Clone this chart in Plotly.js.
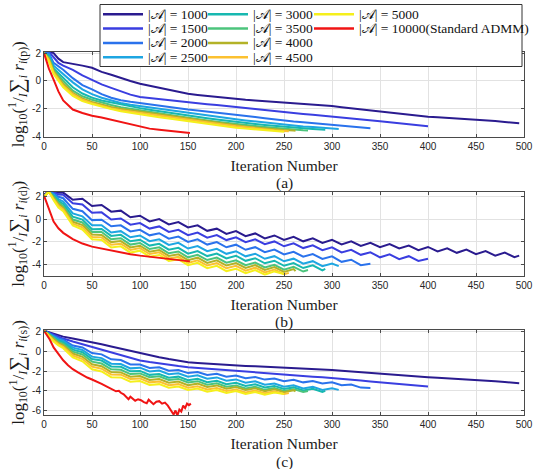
<!DOCTYPE html>
<html>
<head>
<meta charset="utf-8">
<script src="https://cdn.plot.ly/plotly-3.0.1.min.js"></script>
<style>
html,body{margin:0;padding:0;background:#fff;}
#chart{width:550px;height:469px;}
</style>
</head>
<body>
<div id="chart"></div>
<script>
// Iterations at which the residual curves are sampled
const iterGrid = [0,5,10,15,20,30,40,50,60,70,80,90,100,110,120,130,140,150,160,170,180,190,200,
  210,220,230,240,250,260,270,280,290,300,310,320,330,340,350,360,370,380,390,400,
  410,420,430,440,450,460,470,480,490];

const setSizes = [1000,1500,2000,2500,3000,3500,4000,4500,5000,10000];
const seriesLabels = ['|𝒜| = 1000','|𝒜| = 1500','|𝒜| = 2000','|𝒜| = 2500','|𝒜| = 3000',
  '|𝒜| = 3500','|𝒜| = 4000','|𝒜| = 4500','|𝒜| = 5000','|𝒜| = 10000(Standard ADMM)'];
// iteration at which each run stopped
const lastIter = [495,400,340,307,293,275,262,255,250,152];
const lineColors = ['#2a1b8f','#3a3ee0','#2a72ec','#1ea6e2','#17b8b0','#4cc47c','#b3b227','#fcc130','#f5ef1c','#f01414'];

// (a) primal residual, log10
const primalRes = [
  [2.05,2.1,2.0,1.6,1.35,1.25,1.1,0.95,0.65,0.45,0.2,0.0,-0.2,-0.35,-0.5,-0.65,-0.8,-0.92,-1.0,-1.08,-1.15,-1.22,-1.3,-1.35,-1.4,-1.45,-1.5,-1.55,-1.58,-1.62,-1.67,-1.73,-1.8,-1.88,-1.96,-2.04,-2.12,-2.2,-2.28,-2.36,-2.44,-2.51,-2.56,-2.6,-2.64,-2.68,-2.72,-2.76,-2.82,-2.88,-2.94,-3.0,-3.03],
  [2.0,2.1,1.7,1.3,1.1,0.8,0.4,0.05,-0.25,-0.5,-0.75,-0.98,-1.15,-1.23,-1.31,-1.39,-1.47,-1.55,-1.61,-1.67,-1.73,-1.79,-1.85,-1.93,-2.01,-2.09,-2.17,-2.25,-2.31,-2.37,-2.43,-2.49,-2.55,-2.62,-2.69,-2.76,-2.83,-2.9,-2.97,-3.04,-3.11,-3.18,-3.25],
  [2.0,2.0,1.3,1.05,0.8,0.2,-0.3,-0.6,-0.95,-1.2,-1.38,-1.5,-1.6,-1.7,-1.8,-1.89,-1.97,-2.05,-2.12,-2.19,-2.26,-2.33,-2.4,-2.49,-2.58,-2.67,-2.76,-2.85,-2.91,-2.97,-3.03,-3.09,-3.15,-3.21,-3.27,-3.33,-3.4],
  [2.0,1.9,1.1,0.8,0.5,-0.1,-0.6,-0.95,-1.2,-1.4,-1.58,-1.7,-1.8,-1.9,-2.0,-2.1,-2.2,-2.3,-2.39,-2.48,-2.57,-2.66,-2.75,-2.83,-2.91,-2.99,-3.07,-3.15,-3.2,-3.26,-3.31,-3.36,-3.41,-3.45],
  [2.0,1.8,0.9,0.55,0.2,-0.45,-0.9,-1.2,-1.4,-1.55,-1.7,-1.83,-1.95,-2.06,-2.17,-2.28,-2.39,-2.5,-2.59,-2.68,-2.77,-2.86,-2.95,-3.02,-3.09,-3.16,-3.23,-3.3,-3.35,-3.4,-3.45,-3.49,-3.5],
  [2.0,1.7,0.8,0.4,0.0,-0.7,-1.1,-1.35,-1.55,-1.72,-1.88,-2.0,-2.1,-2.21,-2.32,-2.43,-2.54,-2.65,-2.74,-2.83,-2.92,-3.01,-3.1,-3.17,-3.24,-3.31,-3.38,-3.45,-3.5,-3.54,-3.56],
  [2.0,1.6,0.7,0.25,-0.2,-0.85,-1.25,-1.5,-1.7,-1.87,-2.0,-2.1,-2.2,-2.3,-2.4,-2.5,-2.6,-2.7,-2.8,-2.9,-3.0,-3.1,-3.2,-3.27,-3.34,-3.41,-3.47,-3.52,-3.56,-3.57],
  [2.0,1.5,0.6,0.1,-0.35,-0.95,-1.35,-1.6,-1.8,-1.97,-2.1,-2.2,-2.3,-2.4,-2.5,-2.6,-2.7,-2.8,-2.89,-2.98,-3.07,-3.16,-3.25,-3.33,-3.41,-3.48,-3.54,-3.59,-3.61],
  [2.0,1.4,0.5,0.0,-0.45,-1.07,-1.45,-1.66,-1.85,-2.02,-2.17,-2.29,-2.4,-2.5,-2.6,-2.7,-2.8,-2.9,-2.99,-3.08,-3.17,-3.26,-3.35,-3.42,-3.49,-3.55,-3.6,-3.65],
  [2.0,0.9,0.1,-0.75,-1.4,-2.05,-2.3,-2.5,-2.62,-2.78,-2.95,-3.12,-3.3,-3.42,-3.5,-3.58,-3.65,-3.72,-3.73]
];

// (b) dual residual, log10
const dualRes = [
  [2.2,2.45,2.45,2.35,2.37,1.73,1.82,1.18,1.27,0.68,0.77,0.18,0.32,-0.19,0.02,-0.45,-0.25,-0.72,-0.53,-1.02,-0.83,-1.29,-1.05,-1.49,-1.25,-1.69,-1.43,-1.83,-1.55,-1.95,-1.68,-2.09,-1.81,-2.22,-1.95,-2.36,-2.08,-2.47,-2.19,-2.59,-2.33,-2.73,-2.45,-2.85,-2.57,-2.97,-2.69,-3.09,-2.81,-3.22,-2.95,-3.35,-3.22],
  [2.1,2.45,2.4,2.2,2.17,1.43,1.32,0.58,0.62,-0.02,0.07,-0.47,-0.33,-0.82,-0.63,-1.12,-0.93,-1.41,-1.18,-1.63,-1.4,-1.84,-1.6,-2.03,-1.78,-2.21,-1.96,-2.39,-2.13,-2.55,-2.3,-2.73,-2.48,-2.93,-2.7,-3.15,-2.92,-3.37,-3.11,-3.53,-3.27,-3.69,-3.5],
  [2.05,2.45,2.3,2.0,1.87,0.93,0.72,-0.07,-0.03,-0.62,-0.53,-1.07,-0.93,-1.42,-1.23,-1.72,-1.53,-2.0,-1.78,-2.24,-2.02,-2.48,-2.25,-2.7,-2.47,-2.92,-2.68,-3.12,-2.88,-3.32,-3.08,-3.52,-3.28,-3.77,-3.58,-4.07,-3.95],
  [2.0,2.45,2.2,1.8,1.57,0.53,0.27,-0.52,-0.53,-1.17,-1.05,-1.59,-1.43,-1.94,-1.77,-2.27,-2.09,-2.59,-2.37,-2.83,-2.61,-3.06,-2.83,-3.28,-3.05,-3.5,-3.27,-3.72,-3.49,-3.94,-3.71,-4.16,-3.93,-4.15],
  [2.0,2.45,2.1,1.65,1.37,0.23,-0.03,-0.87,-0.85,-1.47,-1.38,-1.95,-1.81,-2.33,-2.17,-2.69,-2.53,-3.04,-2.81,-3.26,-3.03,-3.47,-3.23,-3.68,-3.45,-3.9,-3.67,-4.12,-3.88,-4.32,-4.08,-4.52,-4.4],
  [2.0,2.45,2.0,1.5,1.17,-0.02,-0.28,-1.12,-1.13,-1.77,-1.68,-2.24,-2.1,-2.63,-2.48,-3.01,-2.85,-3.37,-3.15,-3.61,-3.39,-3.85,-3.63,-4.07,-3.83,-4.27,-4.03,-4.47,-4.21,-4.63,-4.5],
  [2.0,2.45,1.9,1.35,1.02,-0.22,-0.51,-1.35,-1.38,-2.02,-1.93,-2.49,-2.34,-2.87,-2.72,-3.25,-3.1,-3.62,-3.4,-3.86,-3.64,-4.1,-3.88,-4.31,-4.06,-4.49,-4.24,-4.67,-4.41,-4.6],
  [2.0,2.45,1.8,1.2,0.87,-0.39,-0.71,-1.56,-1.6,-2.25,-2.16,-2.71,-2.55,-3.08,-2.93,-3.47,-3.33,-3.86,-3.64,-4.1,-3.88,-4.34,-4.13,-4.55,-4.29,-4.71,-4.45,-4.87,-4.75],
  [2.0,2.45,1.7,1.05,0.72,-0.55,-0.9,-1.77,-1.83,-2.49,-2.4,-2.95,-2.78,-3.31,-3.16,-3.69,-3.54,-4.07,-3.86,-4.33,-4.12,-4.59,-4.38,-4.78,-4.5,-4.9,-4.62,-4.85],
  [2.1,0.9,-0.2,-0.8,-1.2,-1.75,-2.15,-2.42,-2.6,-2.78,-2.95,-3.1,-3.22,-3.33,-3.42,-3.52,-3.62,-3.72,-3.73]
];

// (c) third residual, log10
const slackRes = [
  [2.1,1.95,1.8,1.65,1.5,1.3,1.12,0.95,0.72,0.5,0.28,0.03,-0.23,-0.42,-0.6,-0.78,-0.95,-1.09,-1.17,-1.24,-1.31,-1.37,-1.43,-1.47,-1.51,-1.55,-1.59,-1.64,-1.69,-1.74,-1.79,-1.84,-1.89,-1.97,-2.05,-2.13,-2.21,-2.28,-2.35,-2.42,-2.49,-2.56,-2.62,-2.67,-2.72,-2.78,-2.83,-2.89,-2.96,-3.03,-3.1,-3.18,-3.22],
  [2.1,1.9,1.7,1.5,1.3,1.0,0.72,0.44,0.15,-0.12,-0.4,-0.67,-0.92,-1.08,-1.23,-1.37,-1.49,-1.6,-1.68,-1.76,-1.84,-1.92,-2.0,-2.07,-2.14,-2.21,-2.28,-2.36,-2.43,-2.5,-2.56,-2.62,-2.69,-2.78,-2.87,-2.96,-3.05,-3.13,-3.22,-3.31,-3.4,-3.49,-3.57],
  [2.1,1.85,1.6,1.35,1.2,0.6,0.4,-0.17,-0.3,-0.8,-0.88,-1.32,-1.33,-1.68,-1.62,-1.96,-1.88,-2.2,-2.09,-2.38,-2.27,-2.56,-2.45,-2.72,-2.59,-2.86,-2.74,-3.02,-2.88,-3.14,-3.0,-3.26,-3.13,-3.44,-3.35,-3.67,-3.7],
  [2.1,1.8,1.5,1.2,1.07,0.38,0.15,-0.53,-0.68,-1.25,-1.28,-1.72,-1.65,-2.04,-1.94,-2.32,-2.21,-2.57,-2.43,-2.77,-2.64,-2.98,-2.84,-3.18,-3.04,-3.38,-3.25,-3.59,-3.43,-3.75,-3.59,-3.91,-3.74,-3.9],
  [2.1,1.75,1.4,1.1,0.92,0.18,-0.08,-0.77,-0.93,-1.52,-1.56,-2.02,-1.98,-2.38,-2.29,-2.67,-2.56,-2.92,-2.78,-3.12,-2.98,-3.32,-3.18,-3.5,-3.34,-3.66,-3.5,-3.82,-3.65,-3.96,-3.79,-4.1,-4.0],
  [2.1,1.7,1.3,0.97,0.77,-0.02,-0.31,-1.04,-1.23,-1.82,-1.86,-2.3,-2.23,-2.62,-2.52,-2.9,-2.79,-3.15,-3.02,-3.37,-3.24,-3.59,-3.45,-3.76,-3.59,-3.9,-3.72,-4.02,-3.83,-4.12,-4.02],
  [2.1,1.65,1.2,0.85,0.62,-0.22,-0.55,-1.31,-1.5,-2.1,-2.13,-2.57,-2.5,-2.89,-2.8,-3.18,-3.06,-3.42,-3.27,-3.6,-3.45,-3.78,-3.62,-3.92,-3.74,-4.04,-3.85,-4.14,-3.93,-4.06],
  [2.1,1.6,1.1,0.72,0.47,-0.42,-0.78,-1.55,-1.75,-2.34,-2.36,-2.8,-2.74,-3.14,-3.05,-3.43,-3.32,-3.69,-3.54,-3.87,-3.71,-4.02,-3.86,-4.16,-3.97,-4.25,-4.05,-4.32,-4.21],
  [2.1,1.55,1.0,0.6,0.32,-0.62,-1.0,-1.82,-2.03,-2.62,-2.64,-3.08,-3.01,-3.41,-3.32,-3.69,-3.57,-3.92,-3.76,-4.08,-3.91,-4.21,-4.03,-4.32,-4.12,-4.39,-4.18,-4.32],
  [2.1,1.7,1.2,0.4,-0.3,-0.9,-1.4,-1.8,-2.1,-2.4,-2.65,-2.85,-3.05,-3.3,-3.55,-3.8,-4.05,-4.0,-4.2,-4.35,-4.6,-4.85,-4.6,-4.75,-5.0,-4.85,-4.95,-5.15,-5.25,-4.9,-5.15,-5.35,-5.1,-5.05,-5.3,-5.2,-5.5,-5.8,-6.1,-6.4,-6.0,-6.5,-5.9,-6.1,-5.5,-5.75,-5.3,-5.45,-5.3]
];
// the standard ADMM run in (c) is sampled more densely
const slackStdIter = [0,3,6,10,15,20,25,30,35,40,45,50,55,60,65,70,75,78,80,83,86,88,90,92,95,98,101,104,107,109,112,114,117,120,123,126,129,131,133,135,137,139,141,143,145,147,149,151,153];

const W = 550, H = 469, ML = 44, MR = 26;
const px = v => (v - ML) / (W - ML - MR);
const py = v => 1 - v / H;

const panels = [
  {res: primalRes, xa: 'x', ya: 'y'},
  {res: dualRes, xa: 'x2', ya: 'y2'},
  {res: slackRes, xa: 'x3', ya: 'y3'}
];

const traces = [];
panels.forEach((p, k) => {
  p.res.forEach((ys, i) => {
    const xs = (k === 2 && i === 9) ? slackStdIter
      : iterGrid.slice(0, ys.length - 1).concat([lastIter[i]]);
    traces.push({
      type: 'scatter', mode: 'lines', x: xs, y: ys,
      xaxis: p.xa, yaxis: p.ya, name: seriesLabels[i], showlegend: false,
      line: {color: lineColors[i], width: 2}, hoverinfo: 'skip'
    });
  });
});

const frame = '#4a4a4a';
const serif = 'Liberation Serif, Times New Roman, serif';
const sans = 'Liberation Sans, Arial, sans-serif';

function xAxis(anchor) {
  return {
    anchor: anchor, domain: [0, 1], range: [0, 500],
    tickvals: [0,50,100,150,200,250,300,350,400,450,500],
    ticks: 'inside', ticklen: 3, tickcolor: frame,
    showline: true, linecolor: frame, linewidth: 1, mirror: 'allticks',
    showgrid: true, gridcolor: '#e2e2e2', zeroline: false,
    tickfont: {family: sans, size: 10, color: '#262626'},
    title: {text: 'Iteration Number', font: {family: serif, size: 15.5, color: '#1a1a1a', weight: 'normal'}, standoff: 9},
    fixedrange: true
  };
}
const yTitle = suffix => 'log<sub>10</sub>(<sup>1</sup>/<sub><i>I</i></sub><span style="font-size:21px">∑</span><sub><i>i</i></sub> <i>r</i><sub><i>i</i>(' + suffix + ')</sub>)';
function yAxis(anchor, domain, range, vals, suffix) {
  return {
    anchor: anchor, domain: domain, range: range,
    tickvals: vals, ticktext: vals.map(v => String(v)),
    ticks: 'inside', ticklen: 3, tickcolor: frame,
    showline: true, linecolor: frame, linewidth: 1, mirror: 'allticks',
    showgrid: true, gridcolor: '#e2e2e2', zeroline: false,
    tickfont: {family: sans, size: 10, color: '#262626'},
    title: {text: yTitle(suffix), font: {family: serif, size: 17, color: '#1a1a1a'}, standoff: 3},
    fixedrange: true
  };
}

const layout = {
  width: W, height: H,
  margin: {l: ML, r: MR, t: 0, b: 0},
  paper_bgcolor: '#fff', plot_bgcolor: '#fff',
  showlegend: false,
  xaxis: xAxis('y'),
  xaxis2: xAxis('y2'),
  xaxis3: xAxis('y3'),
  yaxis: yAxis('x', [py(136.7), py(51.7)], [-4, 2.1], [-4,-2,0,2], 'p'),
  yaxis2: yAxis('x2', [py(275.7), py(191.7)], [-5, 2.45], [-4,-2,0,2], 'd'),
  yaxis3: yAxis('x3', [py(415), py(330)], [-6.45, 2.17], [-6,-4,-2,0,2], 's'),
  shapes: [],
  annotations: []
};

['(a)', '(b)', '(c)'].forEach((t, k) => {
  layout.annotations.push({
    xref: 'paper', yref: 'paper', x: 0.5, y: py([183, 322, 461.5][k]),
    xanchor: 'center', yanchor: 'middle', showarrow: false, text: t,
    font: {family: serif, size: 15.5, color: '#1a1a1a'}
  });
});

// legend: bordered box with three columns of entries
layout.shapes.push({
  type: 'rect', xref: 'paper', yref: 'paper', layer: 'above',
  x0: px(100), x1: px(522), y0: py(66.5), y1: py(4.5),
  fillcolor: '#fff', line: {color: '#333', width: 1}
});
const colX = [103, 208, 314];
const rowY = [14.3, 28.6, 43, 57.3];
setSizes.forEach((s, i) => {
  const c = Math.floor(i / 4), r = i % 4;
  layout.shapes.push({
    type: 'line', xref: 'paper', yref: 'paper', layer: 'above',
    x0: px(colX[c]), x1: px(colX[c] + 40), y0: py(rowY[r]), y1: py(rowY[r]),
    line: {color: lineColors[i], width: 2.5}
  });
  layout.annotations.push({
    xref: 'paper', yref: 'paper', x: px(colX[c] + 43), y: py(rowY[r]),
    xanchor: 'left', yanchor: 'middle', showarrow: false, text: seriesLabels[i],
    font: {family: serif, size: 13.5, color: '#111'}
  });
});

Plotly.newPlot('chart', traces, layout, {staticPlot: true, displayModeBar: false});
</script>
</body>
</html>
